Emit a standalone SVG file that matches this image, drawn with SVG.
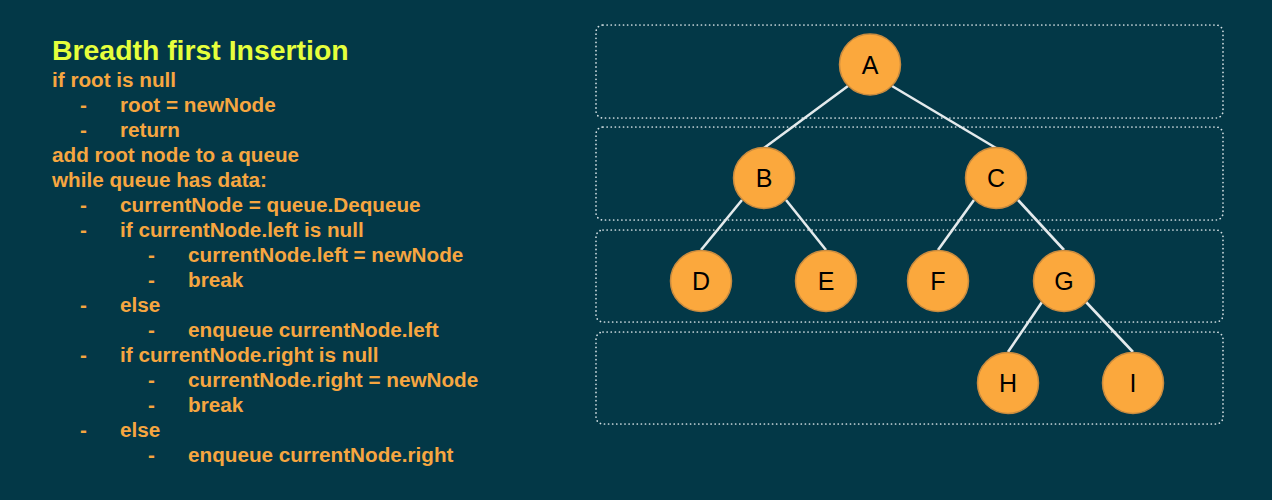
<svg xmlns="http://www.w3.org/2000/svg" width="1272" height="500" viewBox="0 0 1272 500">
<style>
.bg{fill:#033847}
.title{font-family:"Liberation Sans",Arial,sans-serif;font-weight:bold;font-size:28.4px;fill:#E6FF3C}
.code{font-family:"Liberation Sans",Arial,sans-serif;font-weight:bold;font-size:20.7px;fill:#F6A640}
.lane{fill:none;stroke:#D3DEE2;stroke-width:1.7;stroke-dasharray:0.1 4;stroke-linecap:round}
.edge{stroke:#E4EAEC;stroke-width:2.6;fill:none}
.node circle{fill:#FBA83D;stroke:#C98B3F;stroke-width:1.5}
.node text{font-family:"Liberation Sans",Arial,sans-serif;font-size:25px;fill:#000;text-anchor:middle}
</style>
<rect class="bg" x="0" y="0" width="1272" height="500"/>
<g id="pseudocode">
<text class="title" x="52" y="60">Breadth first Insertion</text>
<g class="code">
<text x="52" y="87">if root is null</text>
<text x="80" y="112">-</text><text x="120" y="112">root = newNode</text>
<text x="80" y="137">-</text><text x="120" y="137">return</text>
<text x="52" y="162">add root node to a queue</text>
<text x="52" y="187">while queue has data:</text>
<text x="80" y="212">-</text><text x="120" y="212">currentNode = queue.Dequeue</text>
<text x="80" y="237">-</text><text x="120" y="237">if currentNode.left is null</text>
<text x="148" y="262">-</text><text x="188" y="262">currentNode.left = newNode</text>
<text x="148" y="287">-</text><text x="188" y="287">break</text>
<text x="80" y="312">-</text><text x="120" y="312">else</text>
<text x="148" y="337">-</text><text x="188" y="337">enqueue currentNode.left</text>
<text x="80" y="362">-</text><text x="120" y="362">if currentNode.right is null</text>
<text x="148" y="387">-</text><text x="188" y="387">currentNode.right = newNode</text>
<text x="148" y="412">-</text><text x="188" y="412">break</text>
<text x="80" y="437">-</text><text x="120" y="437">else</text>
<text x="148" y="462">-</text><text x="188" y="462">enqueue currentNode.right</text>
</g>
</g>
<g id="levels">
<rect class="lane" x="596" y="25" width="627" height="93" rx="7"/>
<rect class="lane" x="596" y="127" width="627" height="93" rx="7"/>
<rect class="lane" x="596" y="230" width="627" height="92" rx="7"/>
<rect class="lane" x="596" y="332" width="627" height="92" rx="7"/>
</g>
<g id="connectors">
<line class="edge" x1="848" y1="86" x2="764" y2="148"/>
<line class="edge" x1="892" y1="86" x2="996" y2="148"/>
<line class="edge" x1="742" y1="200" x2="701" y2="250"/>
<line class="edge" x1="786" y1="200" x2="826" y2="250"/>
<line class="edge" x1="974" y1="200" x2="938" y2="250"/>
<line class="edge" x1="1018" y1="200" x2="1064" y2="250"/>
<line class="edge" x1="1042" y1="302" x2="1008" y2="352"/>
<line class="edge" x1="1086" y1="302" x2="1133" y2="352"/>
</g>
<g id="node-A" class="node"><circle cx="870" cy="64.5" r="30.5"/><text x="870" y="73.5">A</text></g>
<g id="node-B" class="node"><circle cx="764" cy="178" r="30.5"/><text x="764" y="187">B</text></g>
<g id="node-C" class="node"><circle cx="996" cy="178" r="30.5"/><text x="996" y="187">C</text></g>
<g id="node-D" class="node"><circle cx="701" cy="281" r="30.5"/><text x="701" y="290">D</text></g>
<g id="node-E" class="node"><circle cx="826" cy="281" r="30.5"/><text x="826" y="290">E</text></g>
<g id="node-F" class="node"><circle cx="938" cy="281" r="30.5"/><text x="938" y="290">F</text></g>
<g id="node-G" class="node"><circle cx="1064" cy="281" r="30.5"/><text x="1064" y="290">G</text></g>
<g id="node-H" class="node"><circle cx="1008" cy="383" r="30.5"/><text x="1008" y="392">H</text></g>
<g id="node-I" class="node"><circle cx="1133" cy="383" r="30.5"/><text x="1133" y="392">I</text></g>
</svg>
